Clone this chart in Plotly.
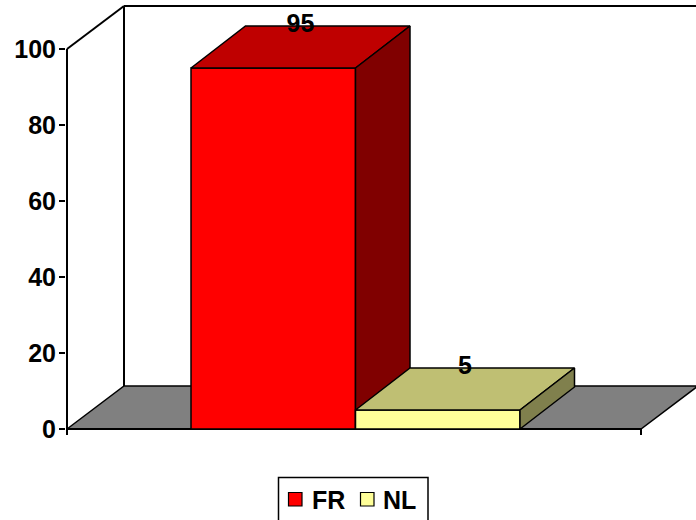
import plotly.graph_objects as go

# ---------------- data ----------------
categories = ["FR", "NL"]
values = [95, 5]
front_colors = ["#FF0000", "#FFFF99"]
top_colors = ["#BF0000", "#BFBF73"]
side_colors = ["#800000", "#80804D"]
y_ticks = [0, 20, 40, 60, 80, 100]

# ---------------- geometry ----------------
PX_PER_UNIT = 3.8          # vertical pixels per value unit
FLOOR_W = 574              # front width of floor (x units = px)
WALL_DX = 57               # depth offset of walls (x)
WALL_DY = 43 / PX_PER_UNIT # depth offset of walls (y, value units)
BAR_X0 = 124
BAR_W = 164.5
BAR_DX = 54.5
BAR_DY = 42 / PX_PER_UNIT
Y_MAX = 100
TICK_DOWN = 1.6
FONT = "Liberation Sans, Arial, sans-serif"
W, HT = 696, 520

fig = go.Figure()


def poly(xs, ys, fill, width=1.5):
    fig.add_trace(go.Scatter(
        x=list(xs) + [xs[0]], y=list(ys) + [ys[0]], mode="lines",
        fill="toself", fillcolor=fill,
        line=dict(color="black", width=width),
        hoverinfo="skip", showlegend=False))


def seg(xs, ys, width=2):
    fig.add_trace(go.Scatter(
        x=xs, y=ys, mode="lines", line=dict(color="black", width=width),
        hoverinfo="skip", showlegend=False))


# floor
poly([0, WALL_DX, FLOOR_W + WALL_DX, FLOOR_W],
     [0, WALL_DY, WALL_DY, 0], "#808080", width=1.5)

# walls / axes lines
seg([WALL_DX, WALL_DX], [WALL_DY, Y_MAX + WALL_DY])
seg([WALL_DX, 700], [Y_MAX + WALL_DY, Y_MAX + WALL_DY])
seg([0, WALL_DX], [Y_MAX, Y_MAX + WALL_DY])
seg([0, 0], [-TICK_DOWN, Y_MAX])
seg([0, FLOOR_W], [0, 0])
seg([FLOOR_W, FLOOR_W], [0, -TICK_DOWN])

# bars
for i, (cat, v) in enumerate(zip(categories, values)):
    x0 = BAR_X0 + i * BAR_W
    x1 = x0 + BAR_W
    poly([x0, x1, x1, x0], [0, 0, v, v], front_colors[i])
    poly([x0, x1, x1 + BAR_DX, x0 + BAR_DX], [v, v, v + BAR_DY, v + BAR_DY], top_colors[i])
    poly([x1, x1 + BAR_DX, x1 + BAR_DX, x1], [0, BAR_DY, v + BAR_DY, v], side_colors[i])
    fig.add_trace(go.Scatter(
        x=[(x0 + x1) / 2 + BAR_DX / 2], y=[v + BAR_DY], mode="text",
        text=[str(v)], textposition="middle center",
        textfont=dict(family=FONT, size=25, color="black", weight="bold"),
        cliponaxis=False, hoverinfo="skip", showlegend=False))

L, T, B = 66, 4, 83
H = HT - T - B

# manual legend (paper coords derived from pixel positions)
def px_x(p):
    return (p - L) / (W - L)

def px_y(p):
    return (T + H - p) / H

shapes = [dict(type="rect", xref="paper", yref="paper",
               x0=px_x(278.5), x1=px_x(428), y0=px_y(525), y1=px_y(477.5),
               line=dict(color="black", width=1.5), fillcolor="white")]
annotations = []
sq_x = [288.5, 360.5]
txt_x = [310, 381]
for i, cat in enumerate(categories):
    shapes.append(dict(type="rect", xref="paper", yref="paper",
                       x0=px_x(sq_x[i]), x1=px_x(sq_x[i] + 13.5),
                       y0=px_y(506), y1=px_y(492.5),
                       line=dict(color="black", width=1.2),
                       fillcolor=front_colors[i]))
    annotations.append(dict(xref="paper", yref="paper", x=px_x(txt_x[i]), y=px_y(500),
                            xanchor="left", yanchor="middle", showarrow=False,
                            text=cat,
                            font=dict(family=FONT, size=25, color="black", weight="bold")))

fig.update_layout(
    width=W, height=HT,
    margin=dict(l=L, r=0, t=T, b=B),
    paper_bgcolor="white", plot_bgcolor="white",
    xaxis=dict(range=[-1, 629], visible=False, fixedrange=True),
    yaxis=dict(range=[(429 - (T + H)) / PX_PER_UNIT, (429 - T) / PX_PER_UNIT],
               tickvals=y_ticks, showgrid=False, zeroline=False, showline=False,
               ticks="outside", ticklen=6, tickwidth=2, tickcolor="black",
               ticklabelstandoff=-2, fixedrange=True,
               tickfont=dict(family=FONT, size=25, color="black", weight="bold")),
    showlegend=False,
    shapes=shapes,
    annotations=annotations,
)

fig.write_html("out.html", config={"displayModeBar": False},
               post_script="document.body.style.margin='0';document.body.style.overflow='hidden';")
